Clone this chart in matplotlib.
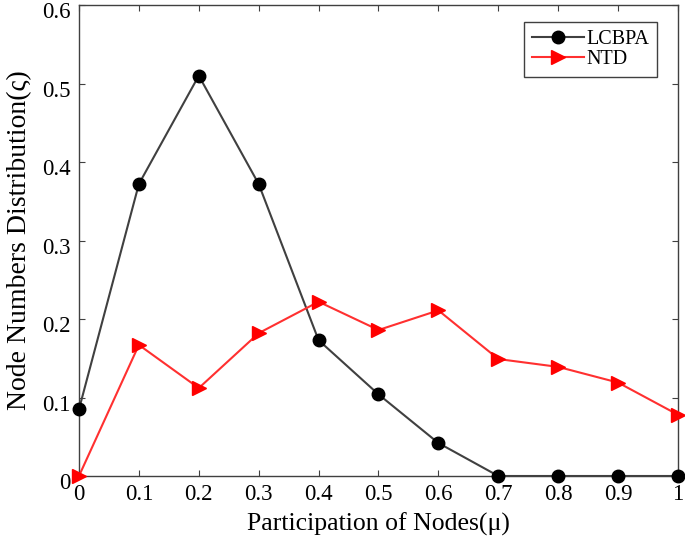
import numpy as np
import matplotlib.pyplot as plt
import matplotlib.transforms as mtransforms

plt.rcParams['font.family'] = ['Liberation Serif', 'DejaVu Serif']

mu = [0, 0.1, 0.2, 0.3, 0.4, 0.5, 0.6, 0.7, 0.8, 0.9, 1.0]
lcbpa = [0.085, 0.372, 0.51, 0.372, 0.173, 0.104, 0.042, 0, 0, 0, 0]
ntd = [0, 0.167, 0.112, 0.182, 0.222, 0.186, 0.211, 0.149, 0.139, 0.119, 0.078]

xticks = [0, 0.1, 0.2, 0.3, 0.4, 0.5, 0.6, 0.7, 0.8, 0.9, 1]
xticklabels = ['0', '0.1', '0.2', '0.3', '0.4', '0.5', '0.6', '0.7', '0.8', '0.9', '1']
yticks = [0, 0.1, 0.2, 0.3, 0.4, 0.5, 0.6]
yticklabels = ['0', '0.1', '0.2', '0.3', '0.4', '0.5', '0.6']

fig = plt.figure(figsize=(6.85, 5.37), dpi=100)
ax = fig.add_axes([0.1153, 0.1136, 0.8745, 0.877])

ax.plot(mu, lcbpa, '-', color='#404040', lw=1.5, marker='o', markersize=9,
        markerfacecolor='black', markeredgecolor='black', label='LCBPA', clip_on=False, zorder=3)
ax.plot(mu, ntd, '-', color='#ff3030', lw=1.5, marker='>', markersize=10,
        markerfacecolor='red', markeredgecolor='red', label='NTD', clip_on=False, zorder=3)

ax.set_xlim(0, 1)
ax.set_ylim(0, 0.6)
ax.set_xticks(xticks)
ax.set_xticklabels(xticklabels)
ax.set_yticks(yticks)
ax.set_yticklabels(yticklabels)
ax.tick_params(direction='in', top=True, right=True, labelsize=16.5, length=4,
               color='#404040')
ax.tick_params(axis='x', pad=6)
ax.tick_params(axis='y', pad=6)
for sp in ax.spines.values():
    sp.set_color('#404040')
    sp.set_linewidth(1.0)

# y tick labels sit a little below their ticks, as in the original
shift = mtransforms.ScaledTranslation(0, -0.05, fig.dpi_scale_trans)
for lab in ax.get_yticklabels():
    lab.set_transform(lab.get_transform() + shift)

ax.set_xlabel('Participation of Nodes(μ)', fontsize=18.5, labelpad=5)
ax.set_ylabel('Node Numbers Distribution(ς)', fontsize=20, labelpad=7)

leg = ax.legend(loc='upper right', bbox_to_anchor=(0.965, 0.964), borderaxespad=0,
                fontsize=14.5, fancybox=False, edgecolor='#404040', framealpha=1,
                handlelength=2.6, borderpad=0.4, labelspacing=0.05, handletextpad=0.1)
leg.get_frame().set_linewidth(1.0)

fig.savefig('out.png', dpi=100)
